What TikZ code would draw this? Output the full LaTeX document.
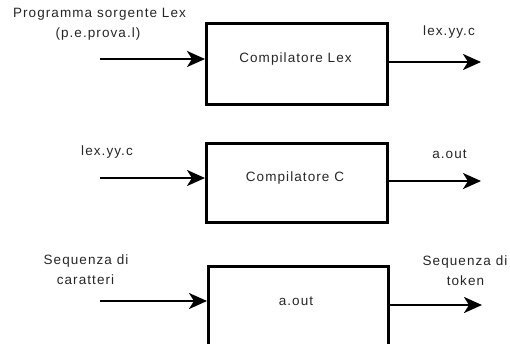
\documentclass[tikz,border=0pt]{standalone}
\usepackage{fontspec}
\setmainfont{Liberation Sans}[LetterSpace=8]
\usetikzlibrary{arrows.meta}
\begin{document}
\begin{tikzpicture}[x=1pt,y=-1pt,
  boxnode/.style={draw=black,line width=2.5pt,minimum width=181pt,inner sep=0pt,anchor=north west},
  txt/.style={font=\fontsize{13.5}{15}\selectfont,text=black!85,inner sep=0pt,align=center},
  arr/.style={line width=2.5pt,-{Stealth[length=18pt,width=16pt,inset=5pt]}}]
\useasboundingbox (0,0) rectangle (510,343);
\clip (0,0) rectangle (510,343);
% boxes
\node[boxnode,minimum height=81pt] (b1) at (205,22) {};
\node[boxnode,minimum height=79pt] (b2) at (205,142) {};
\node[boxnode,minimum height=120pt,minimum width=180pt] (b3) at (207,265) {};
% box texts
\node[txt] (t1) at (295.5,59) {Compilatore Lex};
\node[txt] (t2) at (295,178) {Compilatore C};
\node[txt] (t3) at (296,301) {a.out};
% labels
\node[txt] (l1a) at (99.5,14) {Programma sorgente Lex};
\node[txt] (l1b) at (98,34) {(p.e.prova.l)};
\node[txt] (r1) at (449,32) {lex.yy.c};
\node[txt] (l2) at (107,152) {lex.yy.c};
\node[txt] (r2) at (449.5,154) {a.out};
\node[txt] (l3a) at (86,261) {Sequenza di};
\node[txt] (l3b) at (85.5,280) {caratteri};
\node[txt] (r3a) at (465,262) {Sequenza di};
\node[txt] (r3b) at (465.5,281) {token};
% arrow free ends
\coordinate (i1) at (100,59);
\coordinate (o1) at (481,62);
\coordinate (i2) at (100,178);
\coordinate (o2) at (481,181);
\coordinate (i3) at (100,301);
\coordinate (o3) at (482,305);
% arrows
\draw[arr] (i1) -- (i1 -| b1.west);
\draw[arr] (o1 -| b1.east) -- (o1);
\draw[arr] (i2) -- (i2 -| b2.west);
\draw[arr] (o2 -| b2.east) -- (o2);
\draw[arr] (i3) -- (i3 -| b3.west);
\draw[arr] (o3 -| b3.east) -- (o3);
\end{tikzpicture}
\end{document}
